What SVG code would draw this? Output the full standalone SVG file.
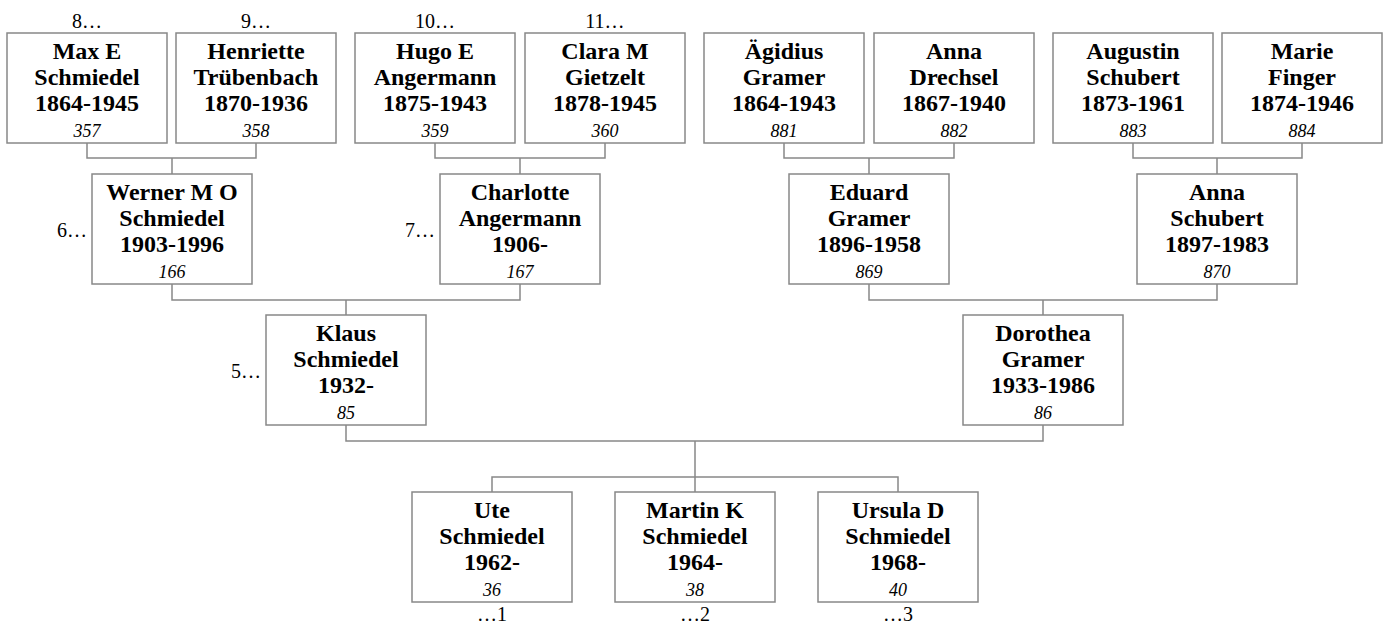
<svg xmlns="http://www.w3.org/2000/svg" width="1385" height="627" viewBox="0 0 1385 627" font-family="'Liberation Serif', 'DejaVu Serif', serif">
<style>
.box{fill:#fff;stroke:#888;stroke-width:1.5}
.con{fill:none;stroke:#888;stroke-width:1.5}
text{font-family:'Liberation Serif','DejaVu Serif',serif;fill:#000}
.n{font-weight:bold;font-size:24px;text-anchor:middle}
.id{font-style:italic;font-size:18px;text-anchor:middle}
.lbl{font-size:20px}
.c{text-anchor:middle}
.e{text-anchor:end}
</style>
<rect width="1385" height="627" fill="#fff"/>
<g id="connectors" class="con">
<path d="M87,143V158H256V143M172,158V174"/>
<path d="M435,143V158H605V143M520,158V174"/>
<path d="M784,143V158H954V143M869,158V174"/>
<path d="M1133,143V158H1302V143M1217,158V174"/>
<path d="M172,284V300H520V284M346,300V315"/>
<path d="M869,284V300H1217V284M1043,300V315"/>
<path d="M346,425V441H1043V425M695,441V492"/>
<path d="M492,492V477H898V492"/>
</g>
<g id="p357" transform="translate(7,33)"><rect class="box" width="160" height="110"/><text class="n" x="80" y="25.5">Max E</text><text class="n" x="80" y="51.5">Schmiedel</text><text class="n" x="80" y="78">1864-1945</text><text class="id" x="80" y="104">357</text></g>
<g id="p358" transform="translate(176,33)"><rect class="box" width="160" height="110"/><text class="n" x="80" y="25.5">Henriette</text><text class="n" x="80" y="51.5">Trübenbach</text><text class="n" x="80" y="78">1870-1936</text><text class="id" x="80" y="104">358</text></g>
<g id="p359" transform="translate(355,33)"><rect class="box" width="160" height="110"/><text class="n" x="80" y="25.5">Hugo E</text><text class="n" x="80" y="51.5">Angermann</text><text class="n" x="80" y="78">1875-1943</text><text class="id" x="80" y="104">359</text></g>
<g id="p360" transform="translate(525,33)"><rect class="box" width="160" height="110"/><text class="n" x="80" y="25.5">Clara M</text><text class="n" x="80" y="51.5">Gietzelt</text><text class="n" x="80" y="78">1878-1945</text><text class="id" x="80" y="104">360</text></g>
<g id="p881" transform="translate(704,33)"><rect class="box" width="160" height="110"/><text class="n" x="80" y="25.5">Ägidius</text><text class="n" x="80" y="51.5">Gramer</text><text class="n" x="80" y="78">1864-1943</text><text class="id" x="80" y="104">881</text></g>
<g id="p882" transform="translate(874,33)"><rect class="box" width="160" height="110"/><text class="n" x="80" y="25.5">Anna</text><text class="n" x="80" y="51.5">Drechsel</text><text class="n" x="80" y="78">1867-1940</text><text class="id" x="80" y="104">882</text></g>
<g id="p883" transform="translate(1053,33)"><rect class="box" width="160" height="110"/><text class="n" x="80" y="25.5">Augustin</text><text class="n" x="80" y="51.5">Schubert</text><text class="n" x="80" y="78">1873-1961</text><text class="id" x="80" y="104">883</text></g>
<g id="p884" transform="translate(1222,33)"><rect class="box" width="160" height="110"/><text class="n" x="80" y="25.5">Marie</text><text class="n" x="80" y="51.5">Finger</text><text class="n" x="80" y="78">1874-1946</text><text class="id" x="80" y="104">884</text></g>
<g id="p166" transform="translate(92,174)"><rect class="box" width="160" height="110"/><text class="n" x="80" y="25.5">Werner M O</text><text class="n" x="80" y="51.5">Schmiedel</text><text class="n" x="80" y="78">1903-1996</text><text class="id" x="80" y="104">166</text></g>
<g id="p167" transform="translate(440,174)"><rect class="box" width="160" height="110"/><text class="n" x="80" y="25.5">Charlotte</text><text class="n" x="80" y="51.5">Angermann</text><text class="n" x="80" y="78">1906-</text><text class="id" x="80" y="104">167</text></g>
<g id="p869" transform="translate(789,174)"><rect class="box" width="160" height="110"/><text class="n" x="80" y="25.5">Eduard</text><text class="n" x="80" y="51.5">Gramer</text><text class="n" x="80" y="78">1896-1958</text><text class="id" x="80" y="104">869</text></g>
<g id="p870" transform="translate(1137,174)"><rect class="box" width="160" height="110"/><text class="n" x="80" y="25.5">Anna</text><text class="n" x="80" y="51.5">Schubert</text><text class="n" x="80" y="78">1897-1983</text><text class="id" x="80" y="104">870</text></g>
<g id="p85" transform="translate(266,315)"><rect class="box" width="160" height="110"/><text class="n" x="80" y="25.5">Klaus</text><text class="n" x="80" y="51.5">Schmiedel</text><text class="n" x="80" y="78">1932-</text><text class="id" x="80" y="104">85</text></g>
<g id="p86" transform="translate(963,315)"><rect class="box" width="160" height="110"/><text class="n" x="80" y="25.5">Dorothea</text><text class="n" x="80" y="51.5">Gramer</text><text class="n" x="80" y="78">1933-1986</text><text class="id" x="80" y="104">86</text></g>
<g id="p36" transform="translate(412,492)"><rect class="box" width="160" height="110"/><text class="n" x="80" y="25.5">Ute</text><text class="n" x="80" y="51.5">Schmiedel</text><text class="n" x="80" y="78">1962-</text><text class="id" x="80" y="104">36</text></g>
<g id="p38" transform="translate(615,492)"><rect class="box" width="160" height="110"/><text class="n" x="80" y="25.5">Martin K</text><text class="n" x="80" y="51.5">Schmiedel</text><text class="n" x="80" y="78">1964-</text><text class="id" x="80" y="104">38</text></g>
<g id="p40" transform="translate(818,492)"><rect class="box" width="160" height="110"/><text class="n" x="80" y="25.5">Ursula D</text><text class="n" x="80" y="51.5">Schmiedel</text><text class="n" x="80" y="78">1968-</text><text class="id" x="80" y="104">40</text></g>
<g id="labels">
<text class="lbl c" x="87" y="28">8…</text>
<text class="lbl c" x="256" y="28">9…</text>
<text class="lbl c" x="435" y="28">10…</text>
<text class="lbl c" x="605" y="28">11…</text>
<text class="lbl e" x="87" y="237">6…</text>
<text class="lbl e" x="435" y="237">7…</text>
<text class="lbl e" x="261" y="378">5…</text>
<text class="lbl c" x="492" y="621">…1</text>
<text class="lbl c" x="695" y="621">…2</text>
<text class="lbl c" x="898" y="621">…3</text>
</g>
</svg>
